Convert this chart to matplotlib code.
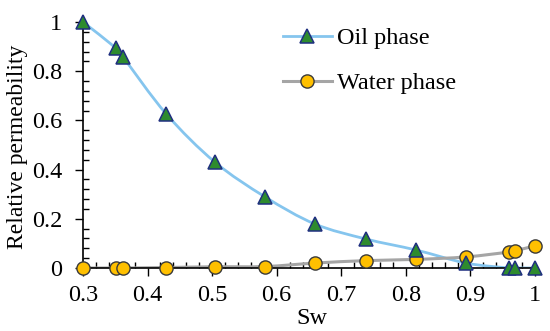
import numpy as np
import matplotlib
matplotlib.use('Agg')
from matplotlib import pyplot as plt
from matplotlib.path import Path
from matplotlib.patches import PathPatch
from matplotlib.ticker import MultipleLocator
from matplotlib.lines import Line2D

plt.rcParams['font.family'] = ['Liberation Serif', 'DejaVu Serif']

sw = [0.3, 0.351, 0.362, 0.429, 0.504, 0.582, 0.659, 0.738, 0.816, 0.893, 0.96, 0.969, 1.0]
kro = [1.0, 0.894, 0.858, 0.626, 0.431, 0.289, 0.179, 0.118, 0.073, 0.02, 0.0, 0.0, 0.0]
krw = [0.0, 0.0, 0.0, 0.002, 0.005, 0.006, 0.02, 0.03, 0.035, 0.045, 0.065, 0.07, 0.09]

oil_color = '#85C5EE'
water_color = '#A5A5A5'


def smooth_path(x, y):
    # Excel-like smoothed line: cubic bezier through the points
    p = np.column_stack([x, y])
    n = len(p)
    verts = [p[0]]
    codes = [Path.MOVETO]
    for i in range(n - 1):
        p0 = p[i - 1] if i > 0 else p[i]
        p3 = p[i + 2] if i + 2 < n else p[i + 1]
        c1 = p[i] + (p[i + 1] - p0) / 6
        c2 = p[i + 1] - (p3 - p[i]) / 6
        verts += [c1, c2, p[i + 1]]
        codes += [Path.CURVE4] * 3
    return Path(verts, codes)


fs = 17.5
fig = plt.figure(figsize=(5.5, 3.31), dpi=100)
ax = fig.add_axes([83 / 550, 1 - 268 / 331, 452 / 550, 246 / 331])

ax.add_patch(PathPatch(smooth_path(sw, kro), fill=False, ec=oil_color, lw=2.0, zorder=2))
ax.add_patch(PathPatch(smooth_path(sw, krw), fill=False, ec=water_color, lw=2.2, zorder=2))
ax.plot(sw, kro, ls='none', marker='^', ms=10.5, mfc='#2E8B2E', mec='#1F2F80', mew=1.1,
        clip_on=False, zorder=4)
ax.plot(sw, krw, ls='none', marker='o', ms=9.5, mfc='#FFC000', mec='#3A3A3A', mew=1.0,
        clip_on=False, zorder=3)

ax.set_xlim(0.3, 1.0)
ax.set_ylim(0, 1.0)
for s in ['top', 'right']:
    ax.spines[s].set_visible(False)
for s in ['left', 'bottom']:
    ax.spines[s].set_linewidth(1.2)
ax.xaxis.set_major_locator(MultipleLocator(0.1))
ax.xaxis.set_minor_locator(MultipleLocator(0.02))
ax.yaxis.set_major_locator(MultipleLocator(0.2))
ax.yaxis.set_minor_locator(MultipleLocator(0.04))
ax.xaxis.set_major_formatter(lambda v, pos: ('%g' % round(v, 2)))
ax.yaxis.set_major_formatter(lambda v, pos: ('%g' % round(v, 2)))
ax.tick_params(which='major', direction='out', length=6, width=1.0, labelsize=fs)
ax.tick_params(axis='x', which='major', pad=6)
ax.tick_params(axis='y', which='major', pad=9)
ax.tick_params(which='minor', direction='in', length=4, width=1.0)

fig.text(18 / 550, 1 - 147 / 331, 'Relative permeability', rotation=90,
         ha='center', va='center', fontsize=17)
fig.text(312 / 550, 1 - 318 / 331, 'Sw', ha='center', va='center', fontsize=fs)

handles = [
    Line2D([], [], color=oil_color, lw=2.0, marker='^', ms=10, mfc='#2E8B2E', mec='#1F2F80', mew=1.1),
    Line2D([], [], color=water_color, lw=2.2, marker='o', ms=9.5, mfc='#FFC000', mec='#3A3A3A', mew=1.0),
]
fig.legend(handles, ['Oil phase', 'Water phase'], loc='upper left',
           bbox_to_anchor=(283 / 550, 1 - 27 / 331), frameon=False, fontsize=fs,
           handlelength=2.0, handletextpad=0.22, labelspacing=0.96, borderpad=0,
           borderaxespad=0)

fig.savefig('out.png', dpi=100)
